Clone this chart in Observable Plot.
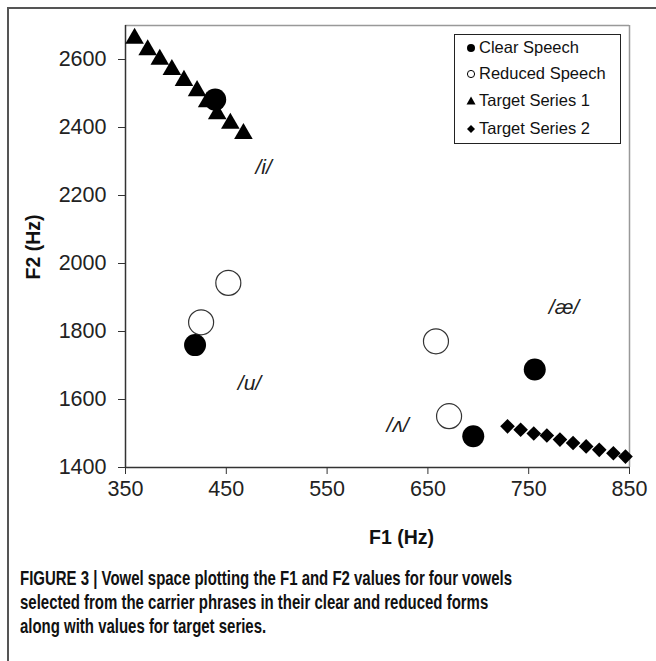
<!DOCTYPE html>
<html>
<head>
<meta charset="utf-8">
<script src="https://cdn.jsdelivr.net/npm/d3@7"></script>
<script src="https://cdn.jsdelivr.net/npm/@observablehq/plot@0.6"></script>
<style>
  html, body { margin: 0; padding: 0; background: #fff; }
  body { width: 656px; height: 661px; position: relative; overflow: hidden; font-family: "Liberation Sans", Arial, sans-serif; }
  #frame { position: absolute; left: 7px; top: 7px; width: 700px; height: 700px; border-left: 2px solid #555; border-top: 2px solid #555; }
  #chart { position: absolute; left: 0; top: 0; }
  .title { position: absolute; font-weight: bold; font-size: 19.5px; color: #111; white-space: nowrap; }
  #legend { position: absolute; left: 454px; top: 34px; width: 165px; height: 108px; border: 1px solid #222; background: #fff; }
  .lrow { position: absolute; left: 10px; font-size: 16.5px; color: #111; white-space: nowrap; display: flex; align-items: center; }
  .lrow svg { margin-right: 2px; }
  #caption { position: absolute; left: 20px; top: 566px; font-family: "Liberation Sans", Arial, sans-serif; font-weight: bold; font-size: 20.5px; line-height: 24px; color: #111; white-space: nowrap; transform: scaleX(0.73); transform-origin: 0 0; }
</style>
</head>
<body>
<div id="frame"></div>
<div id="chart"></div>
<div id="legend"></div>
<div class="title" id="xtitle" style="left:369px; top:526px;">F1 (Hz)</div>
<div class="title" id="ytitle" style="left:33px; top:247px; transform: translate(-50%,-50%) rotate(-90deg);">F2 (Hz)</div>
<div id="caption"></div>
<script>
// ---- data ----
const seriesNames = ["Clear Speech", "Reduced Speech", "Target Series 1", "Target Series 2"];

const clearF1 = [439, 419, 695, 756];
const clearF2 = [2482, 1760, 1492, 1688];

const reducedF1 = [452, 425, 658, 671];
const reducedF2 = [1943, 1827, 1771, 1551];

const target1F1 = [359, 372, 384, 396, 408, 421, 431, 441, 454, 467];
const target1F2 = [2662, 2628, 2600, 2570, 2538, 2508, 2475, 2440, 2412, 2382];

const target2F1 = [729, 742, 755, 768, 781, 794, 807, 820, 834, 846];
const target2F2 = [1521, 1511, 1500, 1494, 1482, 1472, 1462, 1452, 1442, 1432];

const vowelLabels = ["/i/", "/u/", "/ʌ/", "/æ/"];
const vowelLabelF1 = [487, 473, 620, 785];
const vowelLabelF2 = [2282, 1647, 1523, 1871];

const xTicks = [350, 450, 550, 650, 750, 850];
const yTicks = [1400, 1600, 1800, 2000, 2200, 2400, 2600];

const captionLines = [
  "FIGURE 3 | Vowel space plotting the F1 and F2 values for four vowels",
  "selected from the carrier phrases in their clear and reduced forms",
  "along with values for target series."
];

// ---- build tables ----
const zip = (xs, ys) => xs.map((x, i) => ({x, y: ys[i]}));
const clear = zip(clearF1, clearF2);
const reduced = zip(reducedF1, reducedF2);
const t1 = zip(target1F1, target1F2);
const t2 = zip(target2F1, target2F2);
const labels = vowelLabels.map((t, i) => ({t, x: vowelLabelF1[i], y: vowelLabelF2[i]}));

const plot = Plot.plot({
  width: 656,
  height: 560,
  marginLeft: 125,
  marginRight: 27,
  marginTop: 25,
  marginBottom: 93,
  style: {fontFamily: "Liberation Sans, Arial, sans-serif", fontSize: "21px", color: "#222", background: "transparent"},
  x: {domain: [350, 850], ticks: xTicks},
  y: {domain: [1400, 2700], ticks: yTicks},
  marks: [
    Plot.ruleY([2700], {stroke: "#999", strokeWidth: 1.5}),
    Plot.ruleX([850], {stroke: "#999", strokeWidth: 1.5}),
    Plot.ruleX([350], {stroke: "#333", strokeWidth: 1.5}),
    Plot.ruleY([1400], {stroke: "#333", strokeWidth: 1.5}),
    Plot.axisX({ticks: xTicks, tickFormat: d => String(d), tickSize: 7, tickPadding: 6, label: null, stroke: "#333", fill: "#222", fontSize: 21.5}),
    Plot.axisY({ticks: yTicks, tickFormat: d => String(d), tickSize: 7, tickPadding: 12, label: null, stroke: "#333", fill: "#222", fontSize: 21.5}),
    Plot.dot(t1, {x: "x", y: "y", symbol: "triangle", r: 6.9, fill: "#000", stroke: "none"}),
    Plot.dot(t2, {x: "x", y: "y", symbol: "diamond2", r: 6.6, fill: "#000", stroke: "none"}),
    Plot.dot(reduced, {x: "x", y: "y", r: 12.5, fill: "#fff", stroke: "#333", strokeWidth: 1.2}),
    Plot.dot(clear, {x: "x", y: "y", r: 11, fill: "#000", stroke: "none"}),
    Plot.text(labels, {x: "x", y: "y", text: "t", fontSize: 21, fontStyle: "italic", fill: "#222"})
  ]
});
document.getElementById("chart").appendChild(plot);

// legend
const legend = document.getElementById("legend");
const symbolFor = [
  '<circle cx="6" cy="7" r="4" fill="#000"/>',
  '<circle cx="6" cy="7" r="3.6" fill="#fff" stroke="#000" stroke-width="1"/>',
  '<path d="M6,2.5 L10.5,10.5 L1.5,10.5 Z" fill="#000"/>',
  '<path d="M6,3 L10,7 L6,11 L2,7 Z" fill="#000"/>'
];
const rowTops = [3, 29, 56, 84];
seriesNames.forEach((name, i) => {
  const row = document.createElement("div");
  row.className = "lrow";
  row.style.top = rowTops[i] + "px";
  row.style.left = "10px";
  row.innerHTML = `<svg width="12" height="14">${symbolFor[i]}</svg><span>${name}</span>`;
  legend.appendChild(row);
});

// caption
const cap = document.getElementById("caption");
captionLines.forEach(line => {
  const d = document.createElement("div");
  d.textContent = line;
  cap.appendChild(d);
});
</script>
</body>
</html>
